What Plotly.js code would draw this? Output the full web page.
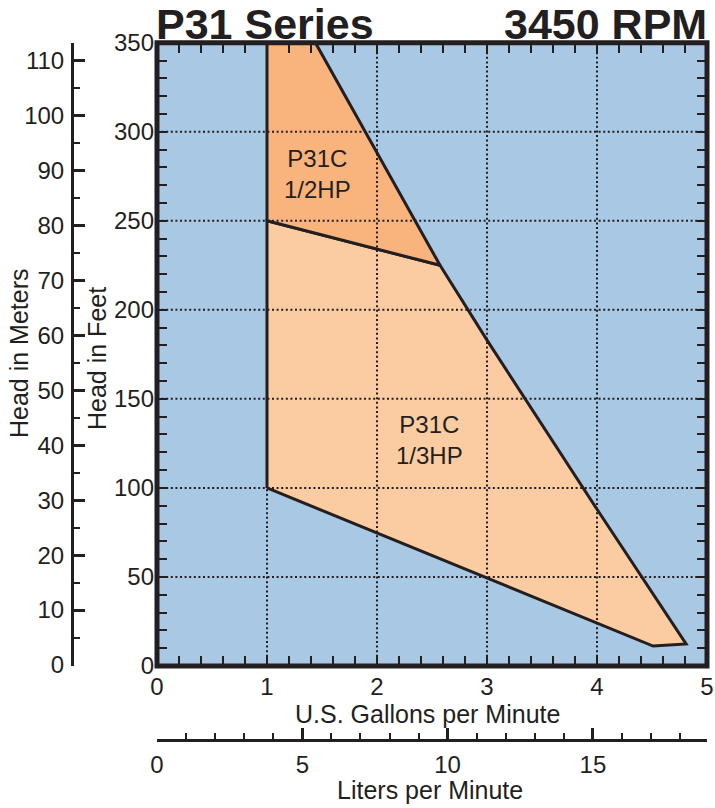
<!DOCTYPE html>
<html>
<head>
<meta charset="utf-8">
<script src="https://cdn.plot.ly/plotly-3.0.1.min.js"></script>
<style>
html,body{margin:0;padding:0;background:#fff;}
#chart{width:715px;height:808px;}
</style>
</head>
<body>
<div id="chart"></div>
<script>
// ---- data ----
const hp13Flow = [1, 1, 2.573, 3, 4, 4.81, 4.51, 1];          // U.S. GPM
const hp13Head = [100, 250, 225, 183, 88, 12.4, 11.2, 100];    // feet
const hp12Flow = [1, 1, 1.44, 2.573, 1];
const hp12Head = [250, 350, 350, 225, 250];
const regionNames = ['P31C<br>1/3HP', 'P31C<br>1/2HP'];
const gpmGrid = [1, 2, 3, 4];
const feetGrid = [50, 100, 150, 200, 250, 300];
const titleLeft = 'P31 Series';
const titleRight = '3450 RPM';
const LITERS_PER_GALLON = 3.785;

// ---- layout helpers ----
const W = 715, H = 808;
const px = v => v / W;
const py = v => 1 - v / H;
const ink = '#231f20';
const FONT = '"Liberation Sans", Arial, Helvetica, sans-serif';

const xLeft = 157, xRight = 707, yTop = 42.7, yBottom = 666;
const gpmMax = 5, feetMax = 350;
const mPx = 5.51;             // pixels per meter on the metric scale
const mBottom = 667;          // pixel of 0 m

const traces = [
  {
    x: hp13Flow, y: hp13Head, type: 'scatter', mode: 'lines',
    fill: 'toself', fillcolor: '#fbcca2',
    line: {color: ink, width: 3}, hoverinfo: 'skip', showlegend: false, name: regionNames[0]
  },
  {
    x: hp12Flow, y: hp12Head, type: 'scatter', mode: 'lines',
    fill: 'toself', fillcolor: '#f9b47e',
    line: {color: ink, width: 3}, hoverinfo: 'skip', showlegend: false, name: regionNames[1]
  },
  // anchors so the secondary scales are drawn
  {x: [0], y: [0], xaxis: 'x2', yaxis: 'y', type: 'scatter', mode: 'markers',
   marker: {opacity: 0}, hoverinfo: 'skip', showlegend: false},
  {x: [0], y: [0], xaxis: 'x', yaxis: 'y2', type: 'scatter', mode: 'markers',
   marker: {opacity: 0}, hoverinfo: 'skip', showlegend: false}
];

const tickFont = {family: FONT, size: 24, color: ink};

const shapes = [];
gpmGrid.forEach(g => shapes.push({
  type: 'line', xref: 'x', yref: 'y', x0: g, x1: g, y0: 0, y1: feetMax,
  line: {color: ink, width: 2, dash: '2px,2.6px'}, layer: 'above'
}));
feetGrid.forEach(f => shapes.push({
  type: 'line', xref: 'x', yref: 'y', x0: 0, x1: gpmMax, y0: f, y1: f,
  line: {color: ink, width: 2, dash: '2px,2.6px'}, layer: 'above'
}));
shapes.push({
  type: 'rect', xref: 'x domain', yref: 'y domain', x0: 0, x1: 1, y0: 0, y1: 1,
  line: {color: ink, width: 5}, fillcolor: 'rgba(0,0,0,0)', layer: 'above'
});

const annotations = [
  {text: '<b>' + titleLeft + '</b>', xref: 'paper', yref: 'paper', x: px(xLeft - 3), y: py(24),
   xanchor: 'left', yanchor: 'middle', showarrow: false, font: {family: FONT, size: 43, color: ink}},
  {text: '<b>' + titleRight + '</b>', xref: 'paper', yref: 'paper', x: px(xRight + 2), y: py(24),
   xanchor: 'right', yanchor: 'middle', showarrow: false, font: {family: FONT, size: 43, color: ink}},
  {text: 'U.S. Gallons per Minute', xref: 'paper', yref: 'paper', x: px(427), y: py(714),
   xanchor: 'center', yanchor: 'middle', showarrow: false, font: {family: FONT, size: 25, color: ink}},
  {text: 'Liters per Minute', xref: 'paper', yref: 'paper', x: px(430), y: py(790),
   xanchor: 'center', yanchor: 'middle', showarrow: false, font: {family: FONT, size: 25, color: ink}},
  {text: 'Head in Meters', xref: 'paper', yref: 'paper', x: px(19), y: py(353), textangle: -90,
   xanchor: 'center', yanchor: 'middle', showarrow: false, font: {family: FONT, size: 25, color: ink}},
  {text: 'Head in Feet', xref: 'paper', yref: 'paper', x: px(97), y: py(359), textangle: -90,
   xanchor: 'center', yanchor: 'middle', showarrow: false, font: {family: FONT, size: 25, color: ink}},
  {text: regionNames[1], xref: 'x', yref: 'y', x: 1.46, y: 276, showarrow: false,
   font: {family: FONT, size: 24, color: ink}},
  {text: regionNames[0], xref: 'x', yref: 'y', x: 2.48, y: 127, showarrow: false,
   font: {family: FONT, size: 24, color: ink}}
];

const layout = {
  width: W, height: H,
  margin: {l: 0, r: 0, t: 0, b: 0, pad: 0},
  paper_bgcolor: '#ffffff',
  plot_bgcolor: '#a8c8e4',
  showlegend: false,
  xaxis: {
    domain: [px(xLeft), px(xRight)], range: [0, gpmMax], fixedrange: true,
    tick0: 0, dtick: 1, ticks: 'inside', ticklen: 10, tickwidth: 2, tickcolor: ink,
    minor: {dtick: 0.2, ticks: 'inside', ticklen: 10, tickwidth: 2, tickcolor: ink, showgrid: false},
    mirror: 'allticks', showline: false, showgrid: false, zeroline: false,
    tickfont: tickFont, ticklabelstandoff: 4
  },
  yaxis: {
    domain: [py(yBottom), py(yTop)], range: [0, feetMax], fixedrange: true,
    tick0: 0, dtick: 50, ticks: 'inside', ticklen: 10, tickwidth: 2, tickcolor: ink,
    minor: {dtick: 10, ticks: 'inside', ticklen: 10, tickwidth: 2, tickcolor: ink, showgrid: false},
    mirror: 'allticks', showline: false, showgrid: false, zeroline: false,
    tickfont: tickFont, ticklabelstandoff: 2
  },
  yaxis2: {
    overlaying: 'y', anchor: 'free', position: px(72), side: 'left',
    range: [-(mBottom - yBottom) / mPx, (mBottom - yTop) / mPx], fixedrange: true,
    tick0: 0, dtick: 10, ticks: 'inside', ticklen: 11, tickwidth: 3, tickcolor: ink,
    minor: {dtick: 5, ticks: 'inside', ticklen: 6, tickwidth: 2, tickcolor: ink, showgrid: false},
    showline: true, linewidth: 3, linecolor: ink, showgrid: false, zeroline: false,
    tickfont: tickFont, ticklabelstandoff: 2
  },
  xaxis2: {
    overlaying: 'x', anchor: 'free', position: py(740), side: 'bottom',
    range: [0, gpmMax * LITERS_PER_GALLON], fixedrange: true,
    tick0: 0, dtick: 5, ticks: 'inside', ticklen: 11, tickwidth: 3, tickcolor: ink,
    minor: {dtick: 1, ticks: 'inside', ticklen: 6, tickwidth: 2, tickcolor: ink, showgrid: false},
    showline: true, linewidth: 3, linecolor: ink, showgrid: false, zeroline: false,
    tickfont: tickFont, ticklabelstandoff: 2
  },
  shapes: shapes,
  annotations: annotations
};

Plotly.newPlot('chart', traces, layout, {displayModeBar: false, staticPlot: true});
</script>
</body>
</html>
